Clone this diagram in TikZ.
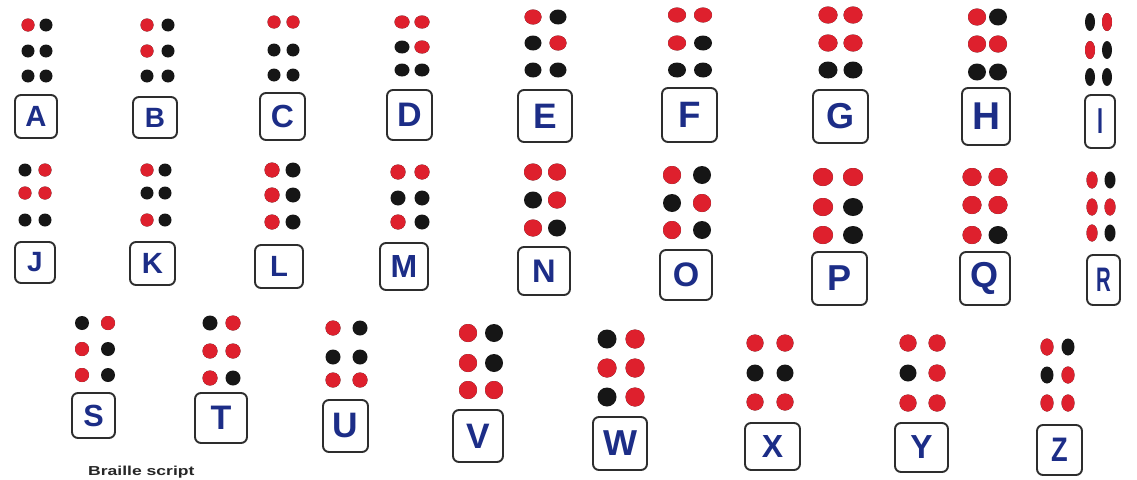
\documentclass[tikz,border=0pt]{standalone}
\usepackage{fontspec}
\setmainfont{Liberation Sans}
\definecolor{dotred}{RGB}{222,32,45}
\definecolor{dotblack}{RGB}{22,22,22}
\definecolor{letterblue}{RGB}{28,45,135}
\definecolor{boxline}{RGB}{45,45,45}
\tikzset{
  lbox/.style={draw=boxline, line width=1.9pt, rounded corners=6pt, fill=white,
    inner sep=0pt, text=letterblue},
  rawdot/.style={fill=dotblack},
  raiseddot/.style={fill=dotred},
}
\begin{document}
\begin{tikzpicture}[x=1pt,y=-1pt]
\fill[white] (0,0) rectangle (1137,479);
\useasboundingbox (0,0) rectangle (1137,479);
\foreach \ch/\xa/\xb/\ya/\yb/\yc/\rx/\ry/\bx/\by/\bw/\bh/\sx/\pat in {
A/28/46/25/51/76/6.5/6.5/36/116.5/42/43/1/{1},
B/147/168/25/51/76/6.5/6.5/155/117.5/44/41/1/{1,2},
C/274/293/22/50/75/6.5/6.5/282.5/116.5/45/47/1/{1,4},
D/402/422/22/47/70/7.5/6.5/409.5/115/45/50/1/{1,4,5},
E/533/558/17/43/70/8.5/7.5/545/116/54/52/1/{1,5},
F/677/703/15/43/70/9/7.5/689.5/115/55/54/1/{1,2,4},
G/828/853/15/43/70/9.5/8.5/840.5/116.5/55/53/1/{1,2,4,5},
H/977/998/17/44/72/9/8.5/986/116.5/48/57/1/{1,2,5},
I/1090/1107/22/50/77/5/9/1100/121.5/30/53/0.6/{2,4},
J/25/45/170/193/220/6.5/6.5/35/262.5/40/41/1/{2,4,5},
K/147/165/170/193/220/6.5/6.5/152.5/263.5/45/43/1/{1,3},
L/272/293/170/195/222/7.5/7.5/279/266.5/48/43/1/{1,2,3},
M/398/422/172/198/222/7.5/7.5/404/266.5/48/47/1/{1,3,4},
N/533/557/172/200/228/9/8.5/544/271/52/48/1/{1,3,4,5},
O/672/702/175/203/230/9/9/686/275/52/50/1/{1,3,5},
P/823/853/177/207/235/10/9/839.5/278.5/55/53/1/{1,2,3,4},
Q/972/998/177/205/235/9.5/9/985/278.5/50/53/1/{1,2,3,4,5},
R/1092/1110/180/207/233/5.5/8.5/1103.5/280/33/50/0.6/{1,2,3,5},
S/82/108/323/349/375/7/7/93.5/415.5/43/45/1/{2,3,4},
T/210/233/323/351/378/7.5/7.5/221/418/52/50/1/{2,3,4,5},
U/333/360/328/357/380/7.5/7.5/345.5/426/45/52/1/{1,3,6},
V/468/494/333/363/390/9/9/478/436/50/52/1/{1,2,3,6},
W/607/635/339/368/397/9.5/9.5/620/443.5/54/53/1/{2,4,5,6},
X/755/785/343/373/402/8.5/8.5/772.5/446.5/55/47/1/{1,3,4,6},
Y/908/937/343/373/403/8.5/8.5/921.5/447.5/53/49/1/{1,3,4,5,6},
Z/1047/1068/347/375/403/6.5/8.5/1059.5/450/45/50/0.8/{1,3,5,6}} {
  \coordinate (\ch1) at (\xa,\ya);
  \coordinate (\ch2) at (\xa,\yb);
  \coordinate (\ch3) at (\xa,\yc);
  \coordinate (\ch4) at (\xb,\ya);
  \coordinate (\ch5) at (\xb,\yb);
  \coordinate (\ch6) at (\xb,\yc);
  \foreach \d in {1,...,6}
    \path[rawdot] (\ch\d) ellipse [x radius=\rx pt, y radius=\ry pt];
  \foreach \d in \pat
    \path[raiseddot] (\ch\d) ellipse [x radius=\rx pt, y radius=\ry pt];
  \pgfmathsetmacro\fs{0.68*\bh}
  \node[lbox, minimum width=\bw pt, minimum height=\bh pt,
        font=\bfseries\fontsize{\fs pt}{\fs pt}\selectfont]
        (box\ch) at (\bx,\by) {\scalebox{\sx}[1]{\ch}};
}
\node[anchor=base west, inner sep=0pt, text=black!85,
      font=\bfseries\fontsize{13}{13}\selectfont] (caption) at (88,475) {\scalebox{1.35}[1]{Braille script}};
\end{tikzpicture}
\end{document}
